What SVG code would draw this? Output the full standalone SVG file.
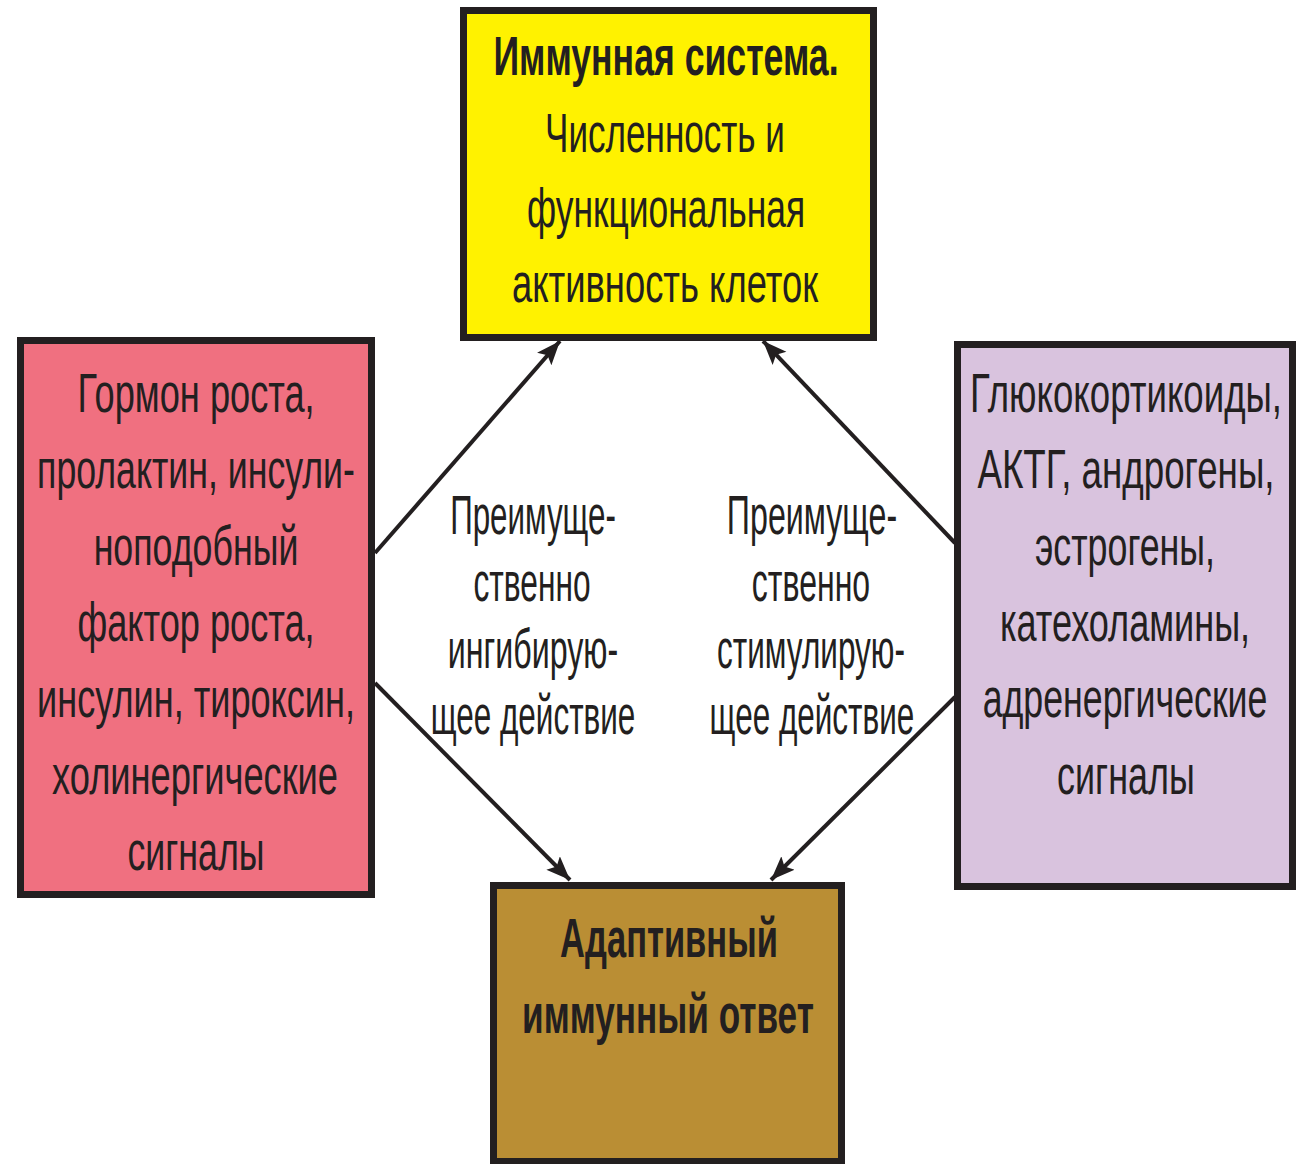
<svg xmlns="http://www.w3.org/2000/svg" width="1298" height="1164" viewBox="0 0 1298 1164">
  <defs>
    <style>
      .box { stroke: #231f20; stroke-width: 7; }
      .t { font-family: "Liberation Sans", Arial, sans-serif; font-size: 56px; fill: #231f20; text-anchor: middle; }
      .b { font-weight: bold; }
      .m { font-size: 56px; }
      .link { stroke: #231f20; stroke-width: 4; fill: none; marker-end: url(#head); }
    </style>
    <marker id="head" markerUnits="userSpaceOnUse" markerWidth="26" markerHeight="20" refX="24" refY="9.5" orient="auto">
      <path d="M0,0 L24,9.5 L0,19 L5,9.5 Z" fill="#231f20"/>
    </marker>
  </defs>

  <rect width="1298" height="1164" fill="#ffffff"/>

  <!-- Connectors -->
  <g id="connectors">
    <line class="link" x1="375" y1="553" x2="560" y2="341"/>
    <line class="link" x1="375" y1="683" x2="570" y2="880"/>
    <line class="link" x1="955" y1="543" x2="763" y2="341"/>
    <line class="link" x1="955" y1="697" x2="771" y2="880"/>
  </g>

  <!-- Immune system -->
  <g id="node-immune">
    <rect class="box" x="463.5" y="10.5" width="410" height="327" fill="#fff200"/>
    <g transform="translate(666,0) scale(0.65,1)">
      <text class="t b" x="0" y="75" textLength="531" lengthAdjust="spacingAndGlyphs">Иммунная система.</text>
      <text class="t" x="-1.5" y="152" textLength="369" lengthAdjust="spacingAndGlyphs">Численность и</text>
      <text class="t" x="0" y="227" textLength="428" lengthAdjust="spacingAndGlyphs">функциональная</text>
      <text class="t" x="-1.5" y="302" textLength="471" lengthAdjust="spacingAndGlyphs">активность клеток</text>
    </g>
  </g>

  <!-- Inhibiting hormones -->
  <g id="node-inhibit">
    <rect class="box" x="20.5" y="340.5" width="351" height="554" fill="#f07080"/>
    <g transform="translate(196,0) scale(0.65,1)">
      <text class="t" x="0" y="412" textLength="365" lengthAdjust="spacingAndGlyphs">Гормон роста,</text>
      <text class="t" x="0" y="488" textLength="489" lengthAdjust="spacingAndGlyphs">пролактин, инсули-</text>
      <text class="t" x="0" y="565" textLength="315" lengthAdjust="spacingAndGlyphs">ноподобный</text>
      <text class="t" x="0" y="641" textLength="365" lengthAdjust="spacingAndGlyphs">фактор роста,</text>
      <text class="t" x="0" y="717" textLength="489" lengthAdjust="spacingAndGlyphs">инсулин, тироксин,</text>
      <text class="t" x="-1.5" y="794" textLength="440" lengthAdjust="spacingAndGlyphs">холинергические</text>
      <text class="t" x="0" y="870" textLength="211" lengthAdjust="spacingAndGlyphs">сигналы</text>
    </g>
  </g>

  <!-- Stimulating hormones -->
  <g id="node-stimulate">
    <rect class="box" x="957.5" y="344.5" width="335" height="542" fill="#d9c3de"/>
    <g transform="translate(1125,0) scale(0.65,1)">
      <text class="t" x="1.5" y="412" textLength="480" lengthAdjust="spacingAndGlyphs">Глюкокортикоиды,</text>
      <text class="t" x="1.5" y="488" textLength="457" lengthAdjust="spacingAndGlyphs">АКТГ, андрогены,</text>
      <text class="t" x="0" y="565" textLength="277" lengthAdjust="spacingAndGlyphs">эстрогены,</text>
      <text class="t" x="0" y="641" textLength="385" lengthAdjust="spacingAndGlyphs">катехоламины,</text>
      <text class="t" x="0" y="717" textLength="438" lengthAdjust="spacingAndGlyphs">адренергические</text>
      <text class="t" x="1.5" y="794" textLength="212" lengthAdjust="spacingAndGlyphs">сигналы</text>
    </g>
  </g>

  <!-- Adaptive immune response -->
  <g id="node-adaptive">
    <rect class="box" x="493.5" y="885.5" width="348" height="276" fill="#ba8e34"/>
    <g transform="translate(668,0) scale(0.65,1)">
      <text class="t b" x="1.5" y="957" textLength="335" lengthAdjust="spacingAndGlyphs">Адаптивный</text>
      <text class="t b" x="0" y="1033" textLength="449" lengthAdjust="spacingAndGlyphs">иммунный ответ</text>
    </g>
  </g>

  <!-- Effect labels -->
  <g id="label-inhibit" transform="translate(533,0) scale(0.65,1)">
    <text class="t m" x="0" y="534" textLength="255" lengthAdjust="spacingAndGlyphs">Преимуще-</text>
    <text class="t m" x="-1.5" y="601" textLength="180" lengthAdjust="spacingAndGlyphs">ственно</text>
    <text class="t m" x="0" y="668" textLength="262" lengthAdjust="spacingAndGlyphs">ингибирую-</text>
    <text class="t m" x="0" y="734" textLength="315" lengthAdjust="spacingAndGlyphs">щее действие</text>
  </g>
  <g id="label-stimulate" transform="translate(811,0) scale(0.65,1)">
    <text class="t m" x="1.5" y="534" textLength="262" lengthAdjust="spacingAndGlyphs">Преимуще-</text>
    <text class="t m" x="0" y="601" textLength="182" lengthAdjust="spacingAndGlyphs">ственно</text>
    <text class="t m" x="0" y="668" textLength="289" lengthAdjust="spacingAndGlyphs">стимулирую-</text>
    <text class="t m" x="1.5" y="734" textLength="315" lengthAdjust="spacingAndGlyphs">щее действие</text>
  </g>
</svg>
